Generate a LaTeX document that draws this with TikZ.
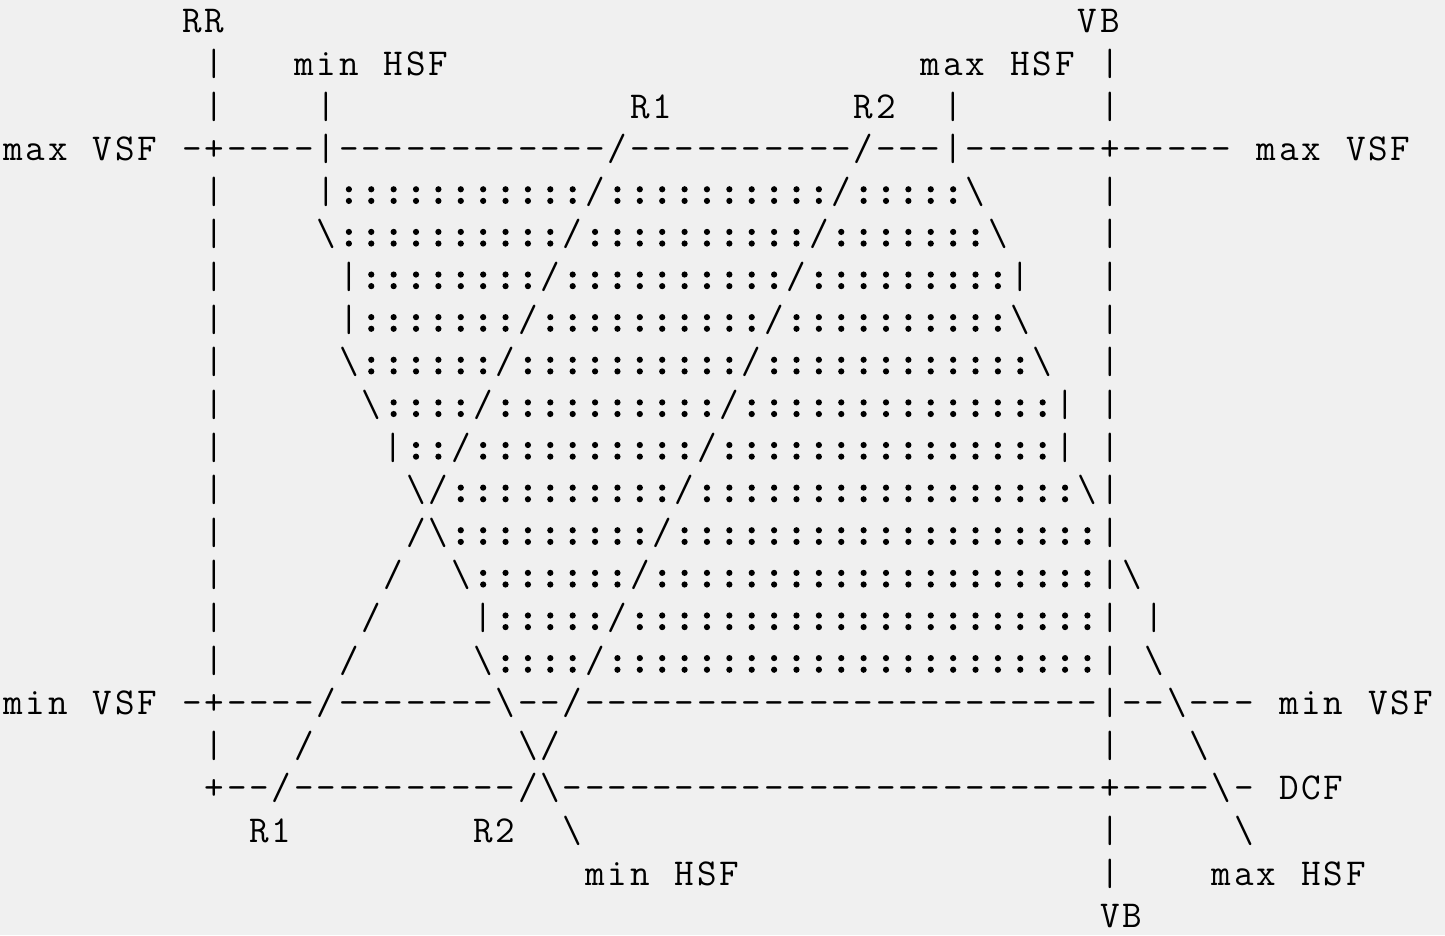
\documentclass[tikz,border=0pt]{standalone}
\usepackage{fontspec}
\newfontfamily\colfont{lmmono10-regular.otf}[FakeBold=3.5]
\definecolor{bgc}{RGB}{240,240,240}
\newcommand\asciifont{\fontsize{38}{45}\selectfont\ttfamily}
\tikzset{ch/.style={inner sep=0pt, outer sep=0pt, anchor=base, font=\asciifont, text=black}}
\def\cw{22.38}\def\xo{2}\def\by{32.8}\def\rh{42.62}
\def\bs{\textbackslash}
\def\dotch{{\colfont :}}
\newcommand\putch[3]{\node[ch, name={c#1x#2}] at ({\xo+\cw*(#2+0.5)},{-(\by+\rh*#1)}) {#3};}
\newcount\segcol
\def\segend{SEGEND}
\newcommand\seg[3]{\def\segrow{#1}\segcol=#2\relax\segloop#3\segend}
\def\segloop#1{%
  \ifx#1\segend
    \let\segnext\relax
  \else
    \def\segnext{\putch{\segrow}{\the\segcol}{#1}\advance\segcol by 1\relax\segloop}%
  \fi
  \segnext}
\newcommand\colons[3]{\foreach \k in {#2,...,#3}{\putch{#1}{\k}{\dotch}}}
\newcommand\dashes[3]{\foreach \k in {#2,...,#3}{\putch{#1}{\k}{-}}}
\begin{document}
\begin{tikzpicture}[x=1pt,y=1pt]
\fill[bgc] (0,0) rectangle (1445,-935);
\useasboundingbox (0,0) rectangle (1445,-935);
% row 0
\seg{0}{8}{RR}\seg{0}{48}{VB}
% row 1
\seg{1}{9}{|}\seg{1}{13}{min}\seg{1}{17}{HSF}\seg{1}{41}{max}\seg{1}{45}{HSF}\seg{1}{49}{|}
% row 2
\seg{2}{9}{|}\seg{2}{14}{|}\seg{2}{28}{R1}\seg{2}{38}{R2}\seg{2}{42}{|}\seg{2}{49}{|}
% row 3
\seg{3}{0}{max}\seg{3}{4}{VSF}\seg{3}{8}{-+}\dashes{3}{10}{13}\seg{3}{14}{|}\dashes{3}{15}{26}\seg{3}{27}{/}\dashes{3}{28}{37}\seg{3}{38}{/}\dashes{3}{39}{41}\seg{3}{42}{|}\dashes{3}{43}{48}\seg{3}{49}{+}\dashes{3}{50}{54}\seg{3}{56}{max}\seg{3}{60}{VSF}
% row 4
\seg{4}{9}{|}\seg{4}{14}{|}\colons{4}{15}{25}\seg{4}{26}{/}\colons{4}{27}{36}\seg{4}{37}{/}\colons{4}{38}{42}\seg{4}{43}{\bs}\seg{4}{49}{|}
% row 5
\seg{5}{9}{|}\seg{5}{14}{\bs}\colons{5}{15}{24}\seg{5}{25}{/}\colons{5}{26}{35}\seg{5}{36}{/}\colons{5}{37}{43}\seg{5}{44}{\bs}\seg{5}{49}{|}
% row 6
\seg{6}{9}{|}\seg{6}{15}{|}\colons{6}{16}{23}\seg{6}{24}{/}\colons{6}{25}{34}\seg{6}{35}{/}\colons{6}{36}{44}\seg{6}{45}{|}\seg{6}{49}{|}
% row 7
\seg{7}{9}{|}\seg{7}{15}{|}\colons{7}{16}{22}\seg{7}{23}{/}\colons{7}{24}{33}\seg{7}{34}{/}\colons{7}{35}{44}\seg{7}{45}{\bs}\seg{7}{49}{|}
% row 8
\seg{8}{9}{|}\seg{8}{15}{\bs}\colons{8}{16}{21}\seg{8}{22}{/}\colons{8}{23}{32}\seg{8}{33}{/}\colons{8}{34}{45}\seg{8}{46}{\bs}\seg{8}{49}{|}
% row 9
\seg{9}{9}{|}\seg{9}{16}{\bs}\colons{9}{17}{20}\seg{9}{21}{/}\colons{9}{22}{31}\seg{9}{32}{/}\colons{9}{33}{46}\seg{9}{47}{|}\seg{9}{49}{|}
% row 10
\seg{10}{9}{|}\seg{10}{17}{|}\colons{10}{18}{19}\seg{10}{20}{/}\colons{10}{21}{30}\seg{10}{31}{/}\colons{10}{32}{46}\seg{10}{47}{|}\seg{10}{49}{|}
% row 11
\seg{11}{9}{|}\seg{11}{18}{\bs/}\colons{11}{20}{29}\seg{11}{30}{/}\colons{11}{31}{47}\seg{11}{48}{\bs|}
% row 12
\seg{12}{9}{|}\seg{12}{18}{/\bs}\colons{12}{20}{28}\seg{12}{29}{/}\colons{12}{30}{48}\seg{12}{49}{|}
% row 13
\seg{13}{9}{|}\seg{13}{17}{/}\seg{13}{20}{\bs}\colons{13}{21}{27}\seg{13}{28}{/}\colons{13}{29}{48}\seg{13}{49}{|\bs}
% row 14
\seg{14}{9}{|}\seg{14}{16}{/}\seg{14}{21}{|}\colons{14}{22}{26}\seg{14}{27}{/}\colons{14}{28}{48}\seg{14}{49}{|}\seg{14}{51}{|}
% row 15
\seg{15}{9}{|}\seg{15}{15}{/}\seg{15}{21}{\bs}\colons{15}{22}{25}\seg{15}{26}{/}\colons{15}{27}{48}\seg{15}{49}{|}\seg{15}{51}{\bs}
% row 16
\seg{16}{0}{min}\seg{16}{4}{VSF}\seg{16}{8}{-+}\dashes{16}{10}{13}\seg{16}{14}{/}\dashes{16}{15}{21}\seg{16}{22}{\bs}\dashes{16}{23}{24}\seg{16}{25}{/}\dashes{16}{26}{48}\seg{16}{49}{|}\dashes{16}{50}{51}\seg{16}{52}{\bs}\dashes{16}{53}{55}\seg{16}{57}{min}\seg{16}{61}{VSF}
% row 17
\seg{17}{9}{|}\seg{17}{13}{/}\seg{17}{23}{\bs/}\seg{17}{49}{|}\seg{17}{53}{\bs}
% row 18
\seg{18}{9}{+}\dashes{18}{10}{11}\seg{18}{12}{/}\dashes{18}{13}{22}\seg{18}{23}{/\bs}\dashes{18}{25}{48}\seg{18}{49}{+}\dashes{18}{50}{53}\seg{18}{54}{\bs-}\seg{18}{57}{DCF}
% row 19
\seg{19}{11}{R1}\seg{19}{21}{R2}\seg{19}{25}{\bs}\seg{19}{49}{|}\seg{19}{55}{\bs}
% row 20
\seg{20}{26}{min}\seg{20}{30}{HSF}\seg{20}{49}{|}\seg{20}{54}{max}\seg{20}{58}{HSF}
% row 21
\seg{21}{49}{VB}
\end{tikzpicture}
\end{document}
